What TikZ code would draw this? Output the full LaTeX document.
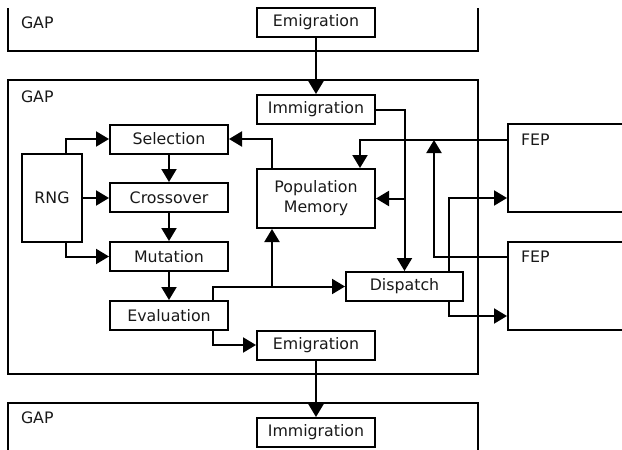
\documentclass[tikz,border=0pt]{standalone}
\usepackage{fontspec}
\setmainfont{DejaVu Sans}
\usetikzlibrary{arrows.meta,calc}
\begin{document}
\begin{tikzpicture}[x=1pt,y=-1pt,
  line width=2pt,
  box/.style={draw,rectangle,inner sep=0pt,minimum width=118pt,minimum height=29pt,font=\fontsize{15.8}{20}\selectfont,text=black!90},
  lbl/.style={anchor=west,inner sep=0pt,font=\fontsize{15.8}{20}\selectfont,text=black!90},
  arr/.style={-{Triangle[length=13pt,width=15pt]}},
  frame/.style={line width=2pt}]
\useasboundingbox (0,0) rectangle (622,450);
\clip (0,0) rectangle (622,450);
% GAP frames
\draw[frame] (8,8) -- (8,51) -- (478,51) -- (478,8);
\draw[frame] (8,80) rectangle (478,374);
\draw[frame] (8,452) -- (8,403) -- (478,403) -- (478,452);
\node[lbl] (gap1) at (20,23) {GAP};
\node[lbl] (gap2) at (20,97) {GAP};
\node[lbl] (gap3) at (20,418) {GAP};
% boxes
\node[box] (emTop) at (316,22.5) {Emigration};
\node[box] (imMid) at (316,109.5) {Immigration};
\node[box] (sel) at (169,139) {Selection};
\node[box] (cross) at (169,197.5) {Crossover};
\node[box] (mut) at (169,256.5) {Mutation};
\node[box] (eval) at (169,315.5) {Evaluation};
\node[box] (emMid) at (316,345) {Emigration};
\node[box,minimum width=117pt] (disp) at (404.5,286.5) {Dispatch};
\node[box,minimum height=59pt,align=center] (pop) at (316,198.5) {Population\\Memory};
\node[box,minimum width=60pt,minimum height=88pt] (rng) at (52,198) {RNG};
\node[box] (imBot) at (316,432.5) {Immigration};
\node[box,minimum width=130pt,minimum height=88pt] (fep1) at (573,168) {};
\node[box,minimum width=130pt,minimum height=88pt] (fep2) at (573,286) {};
\node[lbl] (fepl1) at (520,140) {FEP};
\node[lbl] (fepl2) at (520,257) {FEP};
\coordinate (jf) at (434,140);
% connectors
\draw[arr] (emTop.south) -- (imMid.north);
\draw[arr] (emMid.south) -- (imBot.north);
\draw[arr] ([xshift=14pt]rng.north) |- (sel.west);
\draw[arr] (rng.east) -- (rng.east -| cross.west);
\draw[arr] ([xshift=14pt]rng.south) |- (mut.west);
\draw[arr] (sel.south) -- (cross.north);
\draw[arr] (cross.south) -- (mut.north);
\draw[arr] (mut.south) -- (eval.north);
\draw[arr] ([xshift=44pt]eval.north) |- (disp.west);
\draw[arr] ([xshift=-44pt]pop.south |- disp.west) -- ([xshift=-44pt]pop.south);
\draw[arr] ([xshift=44pt]eval.south) |- (emMid.west);
\draw[arr] ([xshift=-44pt]pop.north) |- (sel.east);
\draw[arr] (imMid.east) -| (disp.north);
\draw[arr] (pop.east -| disp.north) -- (pop.east);
\draw[arr] ([yshift=28pt]fep1.west) -| ([xshift=44pt]pop.north);
\draw[arr] ([yshift=29pt]fep2.west) -| (jf);
\draw[arr] ([xshift=44.5pt]disp.north) |- ([yshift=-30pt]fep1.west);
\draw[arr] ([xshift=44.5pt]disp.south) |- ([yshift=-30pt]fep2.west);
\end{tikzpicture}
\end{document}
